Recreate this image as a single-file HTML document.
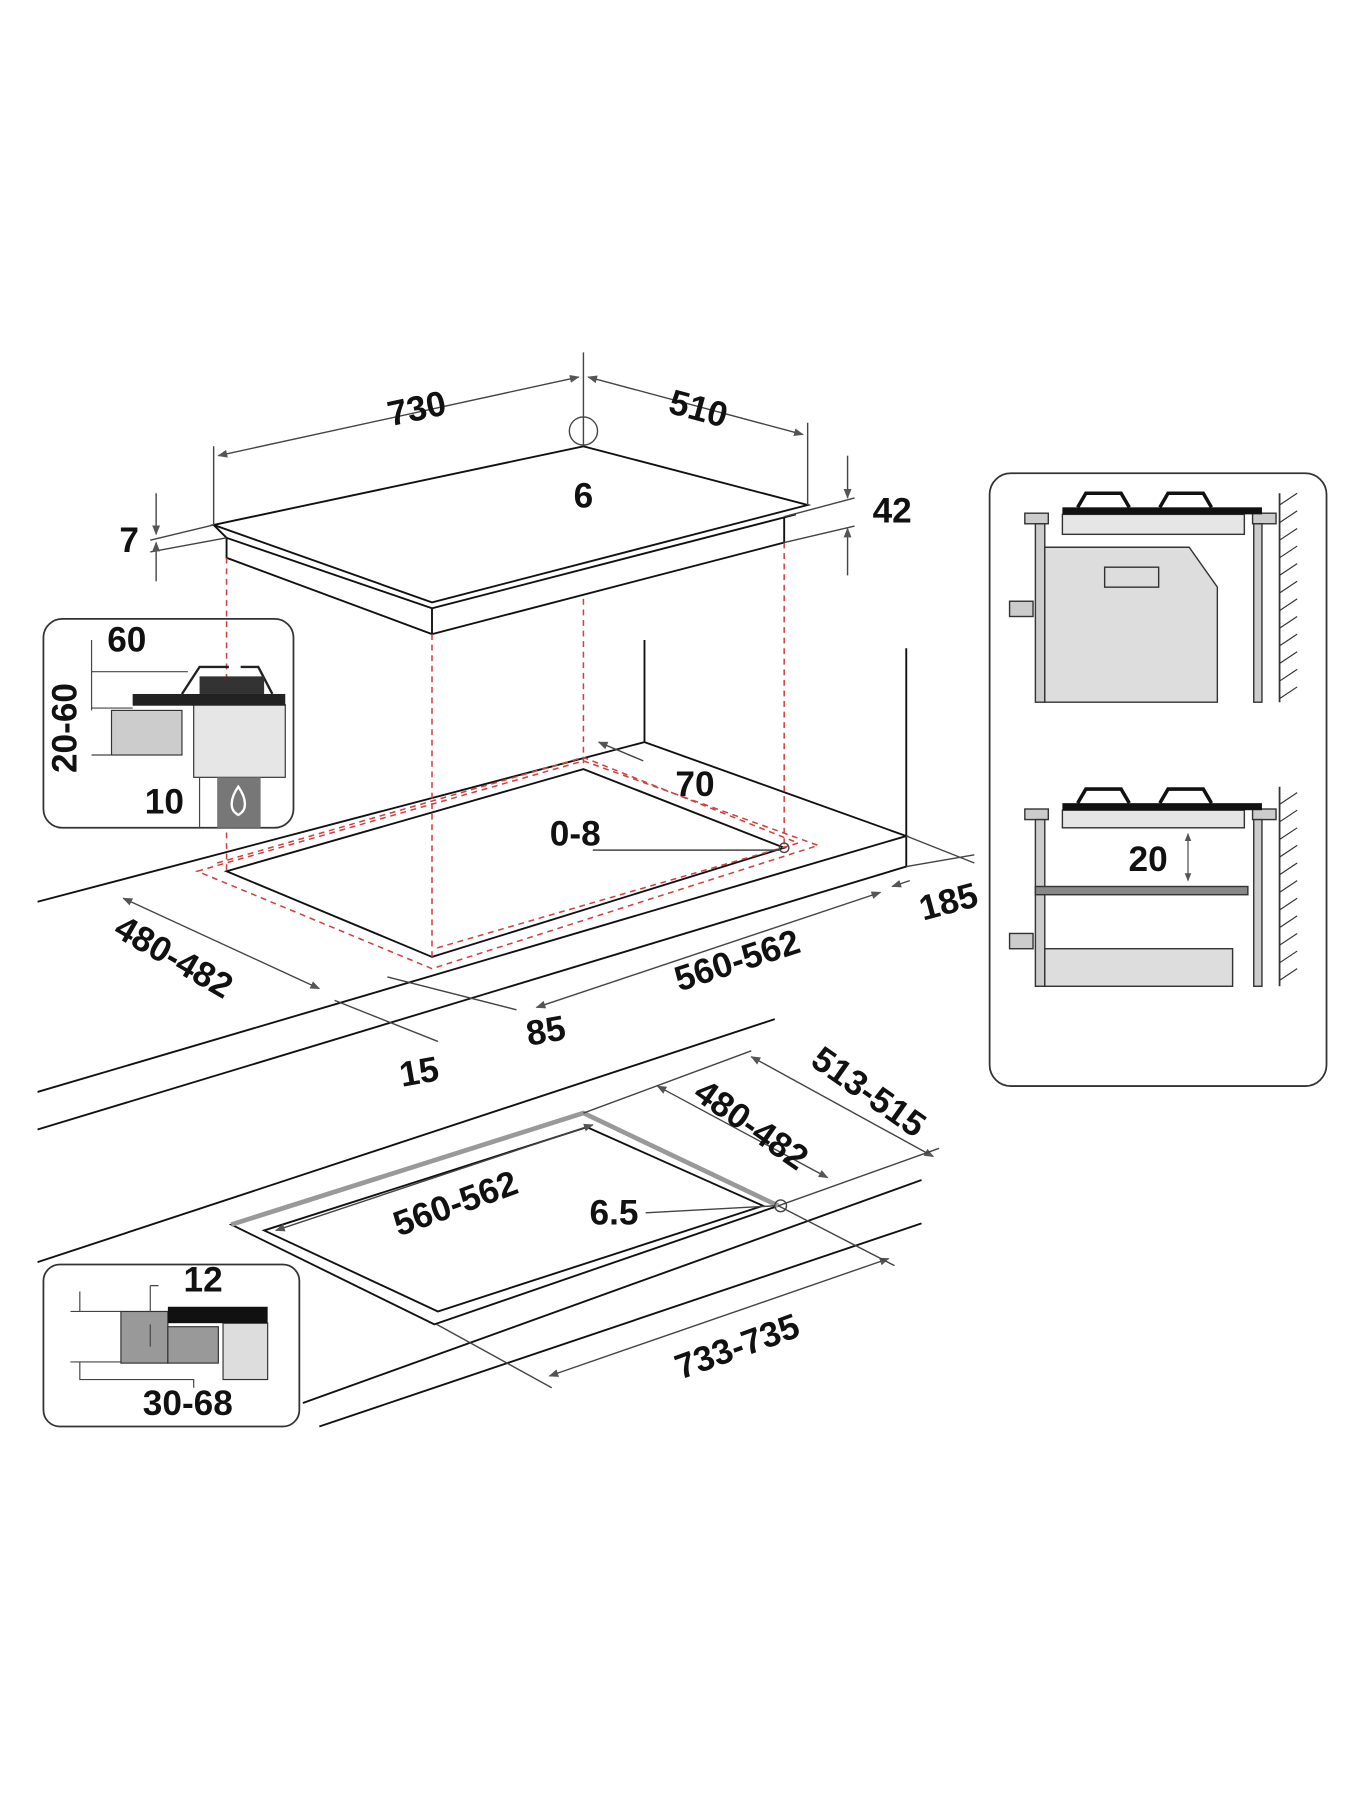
<!DOCTYPE html>
<html><head><style>html,body{margin:0;padding:0;background:#fff}svg{display:block}
text{font-family:"Liberation Sans Narrow","Liberation Sans",sans-serif;font-weight:bold;font-size:30px;fill:#111}</style></head>
<body>
<svg width="1350" height="1800" viewBox="0 0 1150 1533" xmlns="http://www.w3.org/2000/svg">
<defs><marker id="a" viewBox="0 0 10 10" refX="9" refY="5" markerWidth="7" markerHeight="7" orient="auto-start-reverse"><path d="M0,1 L10,5 L0,9z" fill="#555"/></marker></defs>
<g fill="none" stroke="#111" stroke-width="1.6">
<!-- hob -->
<path d="M182,447 L497,380 L688,430 L368,513 Z" fill="#fff"/>
<path d="M182,447 L193,458 L368,518 L678,438"/>
<path d="M193,458 V475 L368,540 L668,462 V440 M368,518 V540"/>
<!-- upper counter -->
<path d="M32,768 L549,632 L772,712 L32,930 M772,712 V738 L32,962 M549,632 V545 M772,712 V552"/>
<path d="M193,742 L497,655 L668,722 L368,815 Z"/>
<!-- lower counter -->
<path d="M32,1075 L660,868 M258,1195 L785,1005 M272,1215 L785,1042"/>
<path d="M197,1043 L497,948 L663,1027 L370,1128 Z"/>
<path d="M225,1048 L500,960 L650,1027 L373,1117 Z"/>
</g>
<path d="M197,1043 L497,948 L663,1027" fill="none" stroke="#999" stroke-width="4"/>
<g fill="none" stroke="#d04040" stroke-width="1.3" stroke-dasharray="5,4">
<path d="M193,475 V742 M368,540 V815 M497,510 V650 M668,462 V722"/>
<path d="M168,742 L497,648 L697,720 L368,825 Z"/>
<path d="M185,735 L497,645 L680,718 L370,808"/>
</g>
<g fill="none" stroke="#444" stroke-width="1.2">
<path d="M182,447 V380 M497,380 V300 M688,430 V360"/>
<path d="M186,388 L493,321" marker-start="url(#a)" marker-end="url(#a)"/>
<path d="M501,321 L684,370" marker-start="url(#a)" marker-end="url(#a)"/>
<circle cx="497" cy="367" r="12"/>
<path d="M128,460 L182,447 M128,470 L193,458"/>
<path d="M133,420 V455" marker-end="url(#a)"/><path d="M133,495 V462" marker-end="url(#a)"/>
<path d="M668,440 L728,424 M668,462 L728,448"/>
<path d="M722,388 V424" marker-end="url(#a)"/><path d="M722,490 V450" marker-end="url(#a)"/>
<path d="M105,765 L272,842" marker-start="url(#a)" marker-end="url(#a)"/>
<path d="M457,858 L750,760" marker-start="url(#a)" marker-end="url(#a)"/>
<path d="M760,755 L775,750" marker-start="url(#a)"/><path d="M772,738 L830,728 M772,712 L830,735"/>
<path d="M510,632 L548,648" marker-start="url(#a)"/>
<path d="M505,724 L664,724"/><circle cx="668" cy="722" r="4"/>
<path d="M285,852 L373,887 M330,832 L440,860"/>
<path d="M640,900 L795,985" marker-start="url(#a)" marker-end="url(#a)"/>
<path d="M560,925 L705,1003" marker-start="url(#a)" marker-end="url(#a)"/>
<path d="M235,1048 L505,958" marker-start="url(#a)" marker-end="url(#a)"/>
<path d="M550,1033 L660,1027"/><circle cx="665" cy="1027" r="5"/>
<path d="M468,1172 L757,1072" marker-start="url(#a)" marker-end="url(#a)"/>
<path d="M372,1128 L470,1182 M663,1027 L762,1078 M497,948 L640,895 M663,1027 L800,978"/>
</g>
<text x="355" y="358" text-anchor="middle" transform="rotate(-12 355 348)">730</text>
<text x="595" y="358" text-anchor="middle" transform="rotate(15 595 348)">510</text>
<text x="497" y="432" text-anchor="middle">6</text>
<text x="110" y="470" text-anchor="middle">7</text>
<text x="760" y="445" text-anchor="middle">42</text>
<text x="148" y="825" text-anchor="middle" transform="rotate(30 148 815)">480-482</text>
<text x="628" y="828" text-anchor="middle" transform="rotate(-18 628 818)">560-562</text>
<text x="808" y="778" text-anchor="middle" transform="rotate(-15 808 768)">185</text>
<text x="592" y="678" text-anchor="middle">70</text>
<text x="490" y="720" text-anchor="middle">0-8</text>
<text x="465" y="888" text-anchor="middle" transform="rotate(-10 465 878)">85</text>
<text x="357" y="923" text-anchor="middle" transform="rotate(-10 357 913)">15</text>
<text x="740" y="940" text-anchor="middle" transform="rotate(35 740 930)">513-515</text>
<text x="640" y="968" text-anchor="middle" transform="rotate(35 640 958)">480-482</text>
<text x="388" y="1035" text-anchor="middle" transform="rotate(-20 388 1025)">560-562</text>
<text x="523" y="1043" text-anchor="middle">6.5</text>
<text x="628" y="1157" text-anchor="middle" transform="rotate(-20 628 1147)">733-735</text>
<!-- left top inset -->
<rect x="37" y="527" width="213" height="178" rx="16" fill="none" stroke="#333" stroke-width="1.5"/>
<rect x="95" y="605" width="60" height="38" fill="#ccc" stroke="#333"/>
<rect x="165" y="600" width="78" height="62" fill="#e6e6e6" stroke="#333"/>
<rect x="113" y="591" width="130" height="10" fill="#222"/>
<path d="M155,591 L170,568 H195 M205,568 H220 L232,591" fill="none" stroke="#222" stroke-width="2"/>
<rect x="170" y="576" width="55" height="15" fill="#333"/>
<rect x="185" y="662" width="37" height="43" fill="#777"/>
<path d="M203,670 C196,680 195,690 203,694 C211,690 210,680 203,670Z" fill="none" stroke="#fff" stroke-width="2"/>
<path d="M78,545 V605 M78,572 H160 M78,603 H113 M78,643 H95 M170,662 V705" fill="none" stroke="#444"/>
<text x="108" y="555" text-anchor="middle">60</text>
<text x="55" y="630" text-anchor="middle" transform="rotate(-90 55 620)">20-60</text>
<text x="140" y="693" text-anchor="middle">10</text>
<!-- lower-left inset -->
<rect x="37" y="1077" width="218" height="138" rx="14" fill="none" stroke="#333" stroke-width="1.5"/>
<rect x="103" y="1117" width="40" height="44" fill="#999" stroke="#333"/>
<rect x="143" y="1130" width="43" height="31" fill="#999" stroke="#333"/>
<rect x="190" y="1127" width="38" height="48" fill="#ddd" stroke="#333"/>
<rect x="143" y="1113" width="85" height="14" fill="#111"/>
<path d="M68,1100 V1117 M60,1117 H103 M60,1160 H103 M68,1160 V1175 H165 V1182 M128,1095 H135 M128,1095 V1117 M128,1147 V1128" fill="none" stroke="#444"/>
<text x="173" y="1100" text-anchor="middle">12</text>
<text x="160" y="1205" text-anchor="middle">30-68</text>
<!-- right box -->
<rect x="843" y="403" width="287" height="522" rx="18" fill="none" stroke="#333" stroke-width="1.5"/>
<g stroke="#333" stroke-width="1.2">
<rect x="905" y="438" width="155" height="17" fill="#e6e6e6"/>
<rect x="873" y="437" width="20" height="9" fill="#ccc"/><rect x="1067" y="437" width="20" height="9" fill="#ccc"/>
<rect x="882" y="446" width="8" height="152" fill="#ccc"/><rect x="1068" y="446" width="7" height="152" fill="#ccc"/>
<path d="M890,466 H1013 L1037,500 V598 H890Z" fill="#ddd"/>
<rect x="941" y="483" width="46" height="17" fill="#ddd"/>
<rect x="860" y="512" width="20" height="13" fill="#ccc"/>
<rect x="905" y="690" width="155" height="15" fill="#e6e6e6"/>
<rect x="873" y="689" width="20" height="9" fill="#ccc"/><rect x="1067" y="689" width="20" height="9" fill="#ccc"/>
<rect x="882" y="698" width="8" height="142" fill="#ccc"/><rect x="1068" y="698" width="7" height="142" fill="#ccc"/>
<rect x="882" y="755" width="181" height="7" fill="#888"/>
<rect x="890" y="808" width="160" height="32" fill="#ddd"/>
<rect x="860" y="795" width="20" height="13" fill="#ccc"/>
</g>
<rect x="905" y="432" width="170" height="6" fill="#111"/><rect x="905" y="684" width="170" height="6" fill="#111"/>
<g fill="none" stroke="#111" stroke-width="3">
<path d="M918,432 L925,420 H955 L962,432 M988,432 L995,420 H1025 L1032,432"/>
<path d="M918,684 L925,672 H955 L962,684 M988,684 L995,672 H1025 L1032,684"/>
</g>
<path d="M1090,420 V598 M1090,670 V840" stroke="#333" stroke-width="1.5"/>
<path d="M1090,430 l15,-10 M1090,445 l15,-10 M1090,460 l15,-10 M1090,475 l15,-10 M1090,490 l15,-10 M1090,505 l15,-10 M1090,520 l15,-10 M1090,535 l15,-10 M1090,550 l15,-10 M1090,565 l15,-10 M1090,580 l15,-10 M1090,595 l15,-10 M1090,685 l15,-10 M1090,700 l15,-10 M1090,715 l15,-10 M1090,730 l15,-10 M1090,745 l15,-10 M1090,760 l15,-10 M1090,775 l15,-10 M1090,790 l15,-10 M1090,805 l15,-10 M1090,820 l15,-10 M1090,835 l15,-10" stroke="#333"/>
<path d="M1012,710 V750" stroke="#444" marker-start="url(#a)" marker-end="url(#a)"/>
<text x="978" y="742" text-anchor="middle">20</text>
</svg>
</body></html>
